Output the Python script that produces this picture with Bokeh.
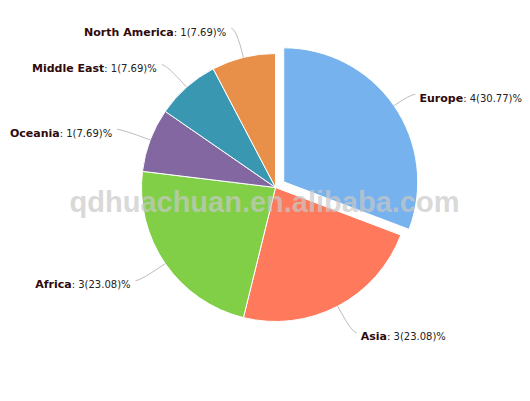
import math
from bokeh.plotting import figure
from bokeh.models import Range1d
from bokeh.core.properties import value
from bokeh.embed import file_html
from bokeh.resources import INLINE

# ---- data ----
regions = ["Europe", "Asia", "Africa", "Oceania", "Middle East", "North America"]
counts = [4, 3, 3, 1, 1, 1]
colors = ["#76b2ee", "#ff7a5c", "#80cf46", "#8267a0", "#3a97b1", "#e8904a"]
sliced = ["Europe"]
watermark = "qdhuachuan.en.alibaba.com"

W, H = 522, 385
PAGE_H = 401
p = figure(width=W, height=H, x_range=Range1d(0, W), y_range=Range1d(PAGE_H - H, PAGE_H),
           output_backend="svg", toolbar_location=None, min_border=0)
p.axis.visible = False
p.grid.visible = False
p.outline_line_color = None
p.background_fill_color = "white"
p.border_fill_color = "white"

def Y(ref_y):
    return PAGE_H - ref_y

cx, cy = 275, Y(187)
r = 134
off = 10
lab_r = r + 30

BOLD = {"A": .774, "E": .683, "M": .995, "N": .837, "O": .850, "a": .675, "c": .593,
        "d": .716, "e": .678, "f": .435, "h": .712, "i": .343, "l": .343, "m": 1.042,
        "n": .712, "o": .687, "p": .716, "r": .493, "s": .595, "t": .478, "u": .712, " ": .348}
NORM = {":": .337, " ": .318, "(": .390, ")": .390, ".": .318, "%": .950}
for d in "0123456789":
    NORM[d] = .636

def width(s, table, size):
    return sum(table.get(ch, 0.62) for ch in s) * size

total = sum(counts)
a0 = 0.0
for name, cnt, col in zip(regions, counts, colors):
    a1 = a0 + cnt / total * 2 * math.pi
    mid = (a0 + a1) / 2
    dx, dy = math.sin(mid), math.cos(mid)
    o = off if name in sliced else 0
    scx, scy = cx + o * dx, cy + o * dy
    p.wedge(x=[scx], y=[scy], radius=r, start_angle=[math.pi / 2 - a1],
            end_angle=[math.pi / 2 - a0], fill_color=col, line_color="white", line_width=1)

    side = 1 if dx >= 0 else -1
    ex, ey = scx + r * dx, scy + r * dy
    ax, ay = cx + lab_r * dx, cy + lab_r * dy
    endx = ax + 5 * side
    p.quadratic(x0=[ex], y0=[ey], x1=[endx], y1=[ay], cx=[ax], cy=[ay],
                line_color="#bdbdbd", line_width=1)

    rest = ": %d(%.2f)%%" % (cnt, cnt / total * 100)
    wb = width(name, BOLD, 11)
    wr = width(rest, NORM, 10)
    by = ay - 4
    if side > 0:
        tx = ax + 9
        p.text(x=[tx], y=[by], text=[name], text_font=value("DejaVu Sans"), text_font_size="11px",
               text_font_style="bold", text_color="#2e0a0a", text_align="left", text_baseline="alphabetic")
        p.text(x=[tx + wb], y=[by], text=[rest], text_font=value("DejaVu Sans"), text_font_size="10px",
               text_color="#222222", text_align="left", text_baseline="alphabetic")
    else:
        tx = ax - 10
        p.text(x=[tx], y=[by], text=[rest], text_font=value("DejaVu Sans"), text_font_size="10px",
               text_color="#222222", text_align="right", text_baseline="alphabetic")
        p.text(x=[tx - wr], y=[by], text=[name], text_font=value("DejaVu Sans"), text_font_size="11px",
               text_font_style="bold", text_color="#2e0a0a", text_align="right", text_baseline="alphabetic")
    a0 = a1

p.text(x=[264], y=[Y(201)], text=[watermark], text_font=value("Liberation Sans"),
       text_font_size="29px", text_font_style="bold", text_color="#c8c8c8", text_alpha=0.7,
       text_align="center", text_baseline="alphabetic")

open("out.html", "w").write(file_html(p, INLINE))
